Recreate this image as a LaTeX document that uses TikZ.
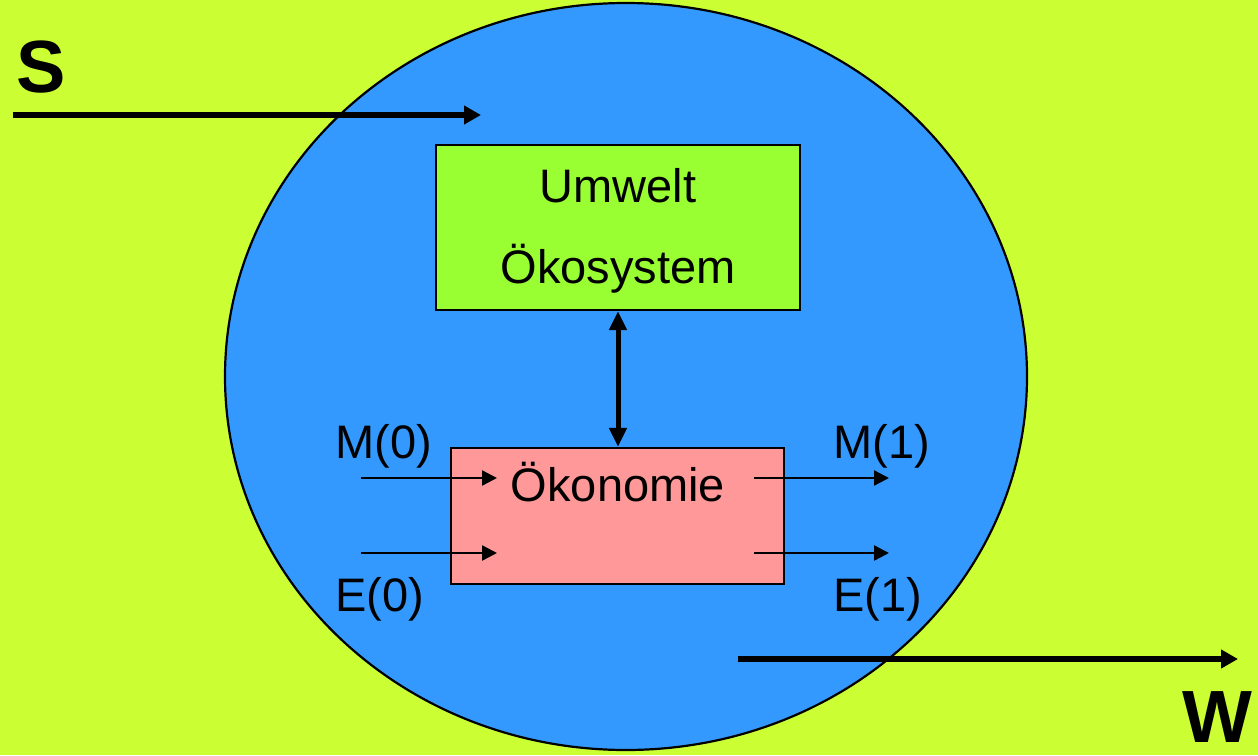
\documentclass[tikz,border=0pt]{standalone}
\usepackage{fontspec}
\setmainfont{Liberation Sans}
\usetikzlibrary{arrows.meta,shapes.geometric}

\definecolor{bgyellow}{HTML}{CCFF33}
\definecolor{worldblue}{HTML}{3399FF}
\definecolor{ecogreen}{HTML}{99FF33}
\definecolor{econpink}{HTML}{FF9999}

\tikzset{
  lbl/.style={font=\fontsize{23.5}{28}\selectfont, anchor=base, inner sep=0pt},
  biglbl/.style={font=\fontsize{37}{44}\selectfont\bfseries, anchor=base, inner sep=0pt},
  boxnode/.style={draw=black, line width=1.1pt, inner sep=0pt},
  flowarrow/.style={line width=1.2pt, -{Triangle[length=7.5pt,width=7.5pt]}},
  bigarrow/.style={line width=3pt, -{Triangle[length=8.5pt,width=9pt]}},
  linkarrow/.style={line width=2.5pt, {Triangle[length=9.5pt,width=8.5pt]}-{Triangle[length=9.5pt,width=8.5pt]}}
}

\begin{document}
\begin{tikzpicture}[x=0.5pt,y=-0.5pt]
  % canvas
  \fill[bgyellow] (0,0) rectangle (1258,755);
  \useasboundingbox (0,0) rectangle (1258,755);

  % the surrounding world
  \node[ellipse, draw=black, line width=1.1pt, fill=worldblue, inner sep=0pt,
        minimum width=401pt, minimum height=373.5pt] (world) at (626,376.5) {};

  % environment and economy boxes
  \node[boxnode, fill=ecogreen, minimum width=182pt, minimum height=82.5pt] (umwelt) at (618,227.5) {};
  \node[boxnode, fill=econpink, minimum width=166.5pt, minimum height=68pt] (oekon) at (617.5,516) {};

  \node[lbl] (tumwelt) at (618,202) {Umwelt};
  \node[lbl] (toeko) at (618,283) {Ökosystem};
  \node[lbl] (toekon) at (618,501.5) {Ökonomie};

  % interaction between environment and economy
  \draw[linkarrow] (umwelt.south) -- (umwelt.south |- oekon.north);

  % inputs and outputs of the economy
  \coordinate (m0a) at (361,478);
  \coordinate (m0b) at (497,478);
  \coordinate (e0a) at (361,553);
  \coordinate (e0b) at (497,553);
  \coordinate (m1a) at (754,478);
  \coordinate (m1b) at (889,478);
  \coordinate (e1a) at (754,553);
  \coordinate (e1b) at (889,553);
  \draw[flowarrow] (m0a) -- (m0b);
  \draw[flowarrow] (e0a) -- (e0b);
  \draw[flowarrow] (m1a) -- (m1b);
  \draw[flowarrow] (e1a) -- (e1b);

  \node[lbl] (lm0) at (384,458) {M(0)};
  \node[lbl] (le0) at (380,611) {E(0)};
  \node[lbl] (lm1) at (882,458) {M(1)};
  \node[lbl] (le1) at (878,611) {E(1)};

  % source and sink
  \coordinate (sa) at (13,115);
  \coordinate (sb) at (481,115);
  \coordinate (wa) at (738,659);
  \coordinate (wb) at (1238,659);
  \draw[bigarrow] (sa) -- (sb);
  \draw[bigarrow] (wa) -- (wb);

  \node[biglbl] (ls) at (41,92) {S};
  \node[biglbl] (lw) at (1217,742) {W};
\end{tikzpicture}
\end{document}
